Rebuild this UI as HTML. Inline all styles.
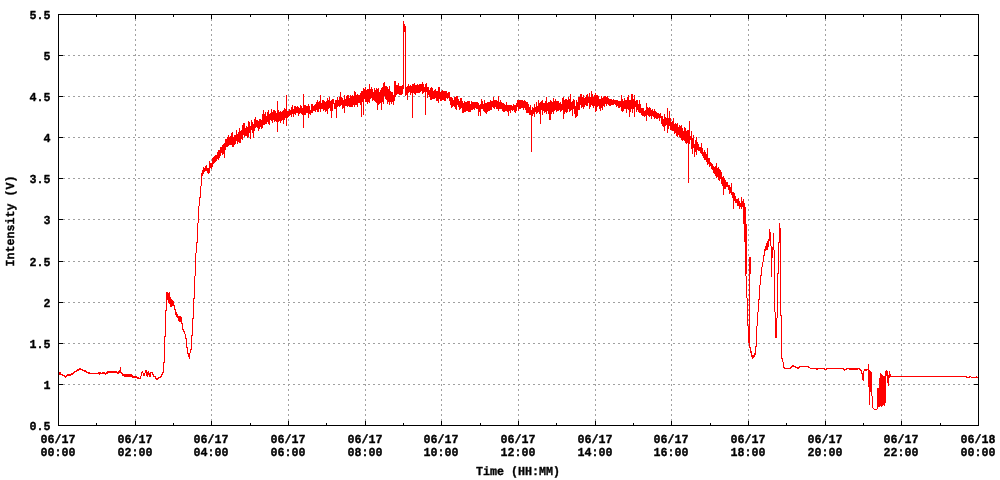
<!DOCTYPE html>
<html lang="en">
<head>
<meta charset="utf-8">
<title>Intensity (V) vs Time (HH:MM)</title>
<style>
html,body{margin:0;padding:0;background:#ffffff;}
body{width:1000px;height:480px;overflow:hidden;}
svg{display:block;}
</style>
</head>
<body>
<svg width="1000" height="480" viewBox="0 0 1000 480">
<rect x="0" y="0" width="1000" height="480" fill="#ffffff"/>
<g stroke="#a0a0a0" stroke-width="1" stroke-dasharray="2 3" shape-rendering="crispEdges" fill="none">
<path d="M58 384.5 H978"/>
<path d="M58 343.5 H978"/>
<path d="M58 302.5 H978"/>
<path d="M58 261.5 H978"/>
<path d="M58 219.5 H978"/>
<path d="M58 178.5 H978"/>
<path d="M58 137.5 H978"/>
<path d="M58 96.5 H978"/>
<path d="M58 55.5 H978"/>
<path d="M135.5 426 V14"/>
<path d="M211.5 426 V14"/>
<path d="M288.5 426 V14"/>
<path d="M365.5 426 V14"/>
<path d="M441.5 426 V14"/>
<path d="M518.5 426 V14"/>
<path d="M595.5 426 V14"/>
<path d="M671.5 426 V14"/>
<path d="M748.5 426 V14"/>
<path d="M825.5 426 V14"/>
<path d="M901.5 426 V14"/>
</g>
<path id="curve" fill="#ff0000" shape-rendering="crispEdges" d="M59 372v3h1v-3zM60 372v3h1v-3zM61 374v1h1v-1zM62 374v2h1v-2zM63 375v1h1v-1zM64 375v2h1v-2zM65 376v2h1v-2zM66 375v2h1v-2zM67 374v2h1v-2zM68 374v2h1v-2zM69 374v2h1v-2zM70 374v2h1v-2zM71 373v2h1v-2zM72 373v2h1v-2zM73 372v2h1v-2zM74 371v2h1v-2zM75 371v1h1v-1zM76 370v2h1v-2zM77 369v2h1v-2zM78 369v2h1v-2zM79 368v2h1v-2zM80 368v2h1v-2zM81 369v1h1v-1zM82 369v2h1v-2zM83 370v1h1v-1zM84 370v2h1v-2zM85 370v2h1v-2zM86 371v2h1v-2zM87 372v1h1v-1zM88 372v2h1v-2zM89 372v2h1v-2zM90 373v1h1v-1zM91 373v1h1v-1zM92 373v1h1v-1zM93 373v1h1v-1zM94 373v1h1v-1zM95 373v1h1v-1zM96 373v1h1v-1zM97 373v1h1v-1zM98 372v2h1v-2zM99 372v3h1v-3zM100 372v2h1v-2zM101 373v1h1v-1zM102 372v2h1v-2zM103 372v2h1v-2zM104 372v2h1v-2zM105 373v2h1v-2zM106 372v2h1v-2zM107 371v3h1v-3zM108 371v2h1v-2zM109 371v2h1v-2zM110 371v2h1v-2zM111 371v2h1v-2zM112 371v2h1v-2zM113 371v2h1v-2zM114 371v2h1v-2zM115 371v2h1v-2zM116 371v2h1v-2zM117 372v2h1v-2zM118 371v3h1v-3zM119 370v3h1v-3zM120 367v6h1v-6zM121 372v2h1v-2zM122 373v3h1v-3zM123 374v2h1v-2zM124 374v3h1v-3zM125 374v3h1v-3zM126 374v3h1v-3zM127 374v3h1v-3zM128 374v3h1v-3zM129 374v3h1v-3zM130 374v3h1v-3zM131 374v3h1v-3zM132 375v3h1v-3zM133 376v2h1v-2zM134 376v2h1v-2zM135 376v2h1v-2zM136 376v2h1v-2zM137 377v2h1v-2zM138 377v2h1v-2zM139 378v1h1v-1zM140 376v3h1v-3zM141 372v4h1v-4zM142 371v2h1v-2zM143 373v3h1v-3zM144 373v3h1v-3zM145 370v3h1v-3zM146 370v6h1v-6zM147 372v5h1v-5zM148 371v4h1v-4zM149 373v4h1v-4zM150 372v5h1v-5zM151 372v1h1v-1zM152 372v3h1v-3zM153 374v3h1v-3zM154 376v1h1v-1zM155 376v3h1v-3zM156 378v2h1v-2zM157 378v2h1v-2zM158 377v2h1v-2zM159 377v1h1v-1zM160 376v2h1v-2zM161 374v3h1v-3zM162 372v3h1v-3zM163 362v11h1v-11zM164 336v27h1v-27zM165 310v27h1v-27zM166 292v19h1v-19zM167 292v8h1v-8zM168 293v10h1v-10zM169 292v12h1v-12zM170 297v10h1v-10zM171 299v8h1v-8zM172 300v6h1v-6zM173 301v5h1v-5zM174 305v5h1v-5zM175 309v6h1v-6zM176 312v5h1v-5zM177 314v4h1v-4zM178 316v5h1v-5zM179 316v6h1v-6zM180 316v6h1v-6zM181 317v7h1v-7zM182 323v7h1v-7zM183 329v3h1v-3zM184 331v3h1v-3zM185 334v5h1v-5zM186 338v10h1v-10zM187 347v7h1v-7zM188 353v4h1v-4zM189 353v6h1v-6zM190 349v4h1v-4zM191 335v15h1v-15zM192 318v18h1v-18zM193 298v21h1v-21zM194 276v23h1v-23zM195 253v23h1v-23zM196 242v11h1v-11zM197 223v20h1v-20zM198 206v17h1v-17zM199 197v9h1v-9zM200 186v12h1v-12zM201 173v13h1v-13zM202 170v6h1v-6zM203 167v7h1v-7zM204 168v4h1v-4zM205 166v5h1v-5zM206 165v6h1v-6zM207 168v5h1v-5zM208 168v6h1v-6zM209 161v12h1v-12zM210 163v5h1v-5zM211 163v6h1v-6zM212 158v9h1v-9zM213 157v7h1v-7zM214 156v7h1v-7zM215 155v7h1v-7zM216 155v6h1v-6zM217 152v7h1v-7zM218 150v10h1v-10zM219 150v8h1v-8zM220 147v9h1v-9zM221 147v6h1v-6zM222 145v10h1v-10zM223 144v10h1v-10zM224 143v15h1v-15zM225 139v11h1v-11zM226 139v8h1v-8zM227 137v10h1v-10zM228 135v11h1v-11zM229 137v8h1v-8zM230 136v9h1v-9zM231 133v12h1v-12zM232 132v15h1v-15zM233 137v10h1v-10zM234 135v10h1v-10zM235 135v9h1v-9zM236 130v11h1v-11zM237 134v10h1v-10zM238 132v10h1v-10zM239 128v15h1v-15zM240 131v12h1v-12zM241 130v9h1v-9zM242 125v15h1v-15zM243 123v12h1v-12zM244 123v14h1v-14zM245 128v8h1v-8zM246 126v10h1v-10zM247 127v11h1v-11zM248 121v16h1v-16zM249 122v11h1v-11zM250 126v13h1v-13zM251 120v10h1v-10zM252 122v11h1v-11zM253 124v14h1v-14zM254 119v12h1v-12zM255 117v11h1v-11zM256 120v7h1v-7zM257 120v8h1v-8zM258 121v10h1v-10zM259 119v10h1v-10zM260 119v8h1v-8zM261 120v9h1v-9zM262 114v14h1v-14zM263 110v15h1v-15zM264 114v11h1v-11zM265 112v12h1v-12zM266 116v8h1v-8zM267 112v10h1v-10zM268 110v14h1v-14zM269 114v11h1v-11zM270 113v7h1v-7zM271 109v12h1v-12zM272 112v11h1v-11zM273 110v10h1v-10zM274 110v12h1v-12zM275 111v10h1v-10zM276 113v9h1v-9zM277 101v31h1v-31zM278 110v12h1v-12zM279 112v9h1v-9zM280 111v12h1v-12zM281 112v9h1v-9zM282 111v9h1v-9zM283 110v14h1v-14zM284 108v12h1v-12zM285 109v9h1v-9zM286 95v31h1v-31zM287 111v7h1v-7zM288 111v6h1v-6zM289 109v7h1v-7zM290 110v5h1v-5zM291 107v10h1v-10zM292 105v9h1v-9zM293 109v8h1v-8zM294 106v8h1v-8zM295 106v9h1v-9zM296 107v6h1v-6zM297 106v7h1v-7zM298 107v9h1v-9zM299 108v6h1v-6zM300 105v8h1v-8zM301 106v8h1v-8zM302 108v7h1v-7zM303 94v34h1v-34zM304 105v10h1v-10zM305 105v10h1v-10zM306 106v7h1v-7zM307 106v7h1v-7zM308 104v14h1v-14zM309 106v8h1v-8zM310 110v5h1v-5zM311 104v9h1v-9zM312 104v9h1v-9zM313 106v5h1v-5zM314 105v6h1v-6zM315 104v8h1v-8zM316 102v8h1v-8zM317 100v12h1v-12zM318 102v10h1v-10zM319 101v8h1v-8zM320 95v17h1v-17zM321 103v6h1v-6zM322 100v9h1v-9zM323 100v11h1v-11zM324 101v9h1v-9zM325 102v10h1v-10zM326 101v10h1v-10zM327 98v16h1v-16zM328 100v9h1v-9zM329 97v11h1v-11zM330 101v10h1v-10zM331 100v18h1v-18zM332 99v12h1v-12zM333 99v5h1v-5zM334 103v6h1v-6zM335 100v9h1v-9zM336 100v18h1v-18zM337 97v10h1v-10zM338 100v6h1v-6zM339 97v10h1v-10zM340 92v14h1v-14zM341 97v8h1v-8zM342 98v11h1v-11zM343 100v8h1v-8zM344 95v18h1v-18zM345 99v7h1v-7zM346 96v10h1v-10zM347 95v12h1v-12zM348 95v11h1v-11zM349 98v9h1v-9zM350 95v12h1v-12zM351 96v11h1v-11zM352 95v12h1v-12zM353 96v9h1v-9zM354 91v16h1v-16zM355 92v13h1v-13zM356 95v10h1v-10zM357 94v13h1v-13zM358 95v8h1v-8zM359 95v8h1v-8zM360 93v12h1v-12zM361 91v26h1v-26zM362 91v11h1v-11zM363 88v27h1v-27zM364 89v10h1v-10zM365 87v15h1v-15zM366 90v12h1v-12zM367 89v15h1v-15zM368 89v13h1v-13zM369 84v19h1v-19zM370 89v10h1v-10zM371 87v11h1v-11zM372 89v12h1v-12zM373 92v8h1v-8zM374 88v13h1v-13zM375 90v12h1v-12zM376 88v15h1v-15zM377 89v21h1v-21zM378 88v17h1v-17zM379 92v12h1v-12zM380 90v13h1v-13zM381 88v22h1v-22zM382 87v15h1v-15zM383 83v21h1v-21zM384 82v14h1v-14zM385 86v13h1v-13zM386 86v14h1v-14zM387 87v17h1v-17zM388 89v13h1v-13zM389 86v19h1v-19zM390 91v11h1v-11zM391 92v12h1v-12zM392 92v10h1v-10zM393 95v10h1v-10zM394 81v20h1v-20zM395 81v16h1v-16zM396 85v10h1v-10zM397 85v9h1v-9zM398 83v11h1v-11zM399 86v9h1v-9zM400 86v9h1v-9zM401 86v9h1v-9zM402 85v9h1v-9zM403 21v68h1v-68zM404 24v8h1v-8zM405 26v70h1v-70zM406 87v8h1v-8zM407 86v14h1v-14zM408 84v9h1v-9zM409 86v6h1v-6zM410 85v10h1v-10zM411 86v7h1v-7zM412 84v34h1v-34zM413 84v9h1v-9zM414 83v11h1v-11zM415 85v10h1v-10zM416 85v8h1v-8zM417 84v9h1v-9zM418 85v8h1v-8zM419 84v9h1v-9zM420 84v8h1v-8zM421 84v7h1v-7zM422 82v12h1v-12zM423 84v9h1v-9zM424 87v5h1v-5zM425 84v31h1v-31zM426 83v9h1v-9zM427 87v11h1v-11zM428 87v8h1v-8zM429 90v7h1v-7zM430 88v12h1v-12zM431 87v13h1v-13zM432 88v11h1v-11zM433 91v8h1v-8zM434 90v9h1v-9zM435 89v9h1v-9zM436 91v10h1v-10zM437 91v10h1v-10zM438 87v16h1v-16zM439 87v12h1v-12zM440 92v9h1v-9zM441 91v10h1v-10zM442 90v10h1v-10zM443 91v9h1v-9zM444 91v10h1v-10zM445 91v10h1v-10zM446 91v7h1v-7zM447 93v6h1v-6zM448 92v6h1v-6zM449 92v9h1v-9zM450 97v8h1v-8zM451 97v11h1v-11zM452 98v9h1v-9zM453 100v6h1v-6zM454 97v10h1v-10zM455 97v12h1v-12zM456 96v14h1v-14zM457 96v9h1v-9zM458 99v8h1v-8zM459 101v9h1v-9zM460 98v11h1v-11zM461 98v10h1v-10zM462 101v12h1v-12zM463 103v10h1v-10zM464 101v11h1v-11zM465 102v10h1v-10zM466 102v9h1v-9zM467 101v10h1v-10zM468 101v11h1v-11zM469 101v11h1v-11zM470 104v8h1v-8zM471 101v9h1v-9zM472 102v8h1v-8zM473 102v7h1v-7zM474 102v8h1v-8zM475 102v6h1v-6zM476 102v7h1v-7zM477 102v7h1v-7zM478 103v13h1v-13zM479 105v7h1v-7zM480 104v12h1v-12zM481 99v10h1v-10zM482 101v8h1v-8zM483 104v7h1v-7zM484 100v12h1v-12zM485 103v10h1v-10zM486 103v11h1v-11zM487 102v10h1v-10zM488 102v9h1v-9zM489 102v9h1v-9zM490 100v10h1v-10zM491 101v9h1v-9zM492 101v6h1v-6zM493 97v11h1v-11zM494 100v9h1v-9zM495 100v7h1v-7zM496 100v9h1v-9zM497 101v8h1v-8zM498 96v15h1v-15zM499 102v7h1v-7zM500 100v9h1v-9zM501 102v7h1v-7zM502 103v8h1v-8zM503 103v9h1v-9zM504 104v8h1v-8zM505 105v6h1v-6zM506 102v9h1v-9zM507 105v7h1v-7zM508 105v11h1v-11zM509 105v6h1v-6zM510 105v8h1v-8zM511 105v5h1v-5zM512 106v5h1v-5zM513 104v6h1v-6zM514 105v7h1v-7zM515 105v8h1v-8zM516 103v8h1v-8zM517 100v7h1v-7zM518 100v11h1v-11zM519 100v9h1v-9zM520 100v9h1v-9zM521 100v8h1v-8zM522 100v8h1v-8zM523 101v9h1v-9zM524 100v8h1v-8zM525 101v9h1v-9zM526 102v11h1v-11zM527 102v11h1v-11zM528 104v9h1v-9zM529 107v8h1v-8zM530 105v10h1v-10zM531 110v42h1v-42zM532 107v9h1v-9zM533 108v6h1v-6zM534 104v13h1v-13zM535 107v5h1v-5zM536 102v12h1v-12zM537 106v7h1v-7zM538 100v12h1v-12zM539 103v11h1v-11zM540 102v22h1v-22zM541 101v9h1v-9zM542 100v15h1v-15zM543 103v8h1v-8zM544 103v10h1v-10zM545 101v11h1v-11zM546 97v17h1v-17zM547 103v8h1v-8zM548 102v12h1v-12zM549 102v18h1v-18zM550 100v20h1v-20zM551 101v13h1v-13zM552 102v10h1v-10zM553 98v16h1v-16zM554 101v10h1v-10zM555 99v11h1v-11zM556 101v11h1v-11zM557 101v10h1v-10zM558 101v10h1v-10zM559 103v7h1v-7zM560 102v10h1v-10zM561 104v7h1v-7zM562 98v12h1v-12zM563 97v22h1v-22zM564 100v14h1v-14zM565 99v13h1v-13zM566 99v14h1v-14zM567 100v12h1v-12zM568 97v12h1v-12zM569 99v13h1v-13zM570 94v17h1v-17zM571 102v8h1v-8zM572 101v15h1v-15zM573 99v10h1v-10zM574 100v14h1v-14zM575 106v12h1v-12zM576 100v17h1v-17zM577 102v14h1v-14zM578 97v13h1v-13zM579 97v13h1v-13zM580 94v11h1v-11zM581 94v14h1v-14zM582 97v10h1v-10zM583 95v14h1v-14zM584 98v9h1v-9zM585 97v8h1v-8zM586 95v11h1v-11zM587 94v12h1v-12zM588 97v6h1v-6zM589 93v16h1v-16zM590 97v10h1v-10zM591 91v14h1v-14zM592 94v12h1v-12zM593 97v11h1v-11zM594 95v11h1v-11zM595 93v19h1v-19zM596 95v16h1v-16zM597 95v12h1v-12zM598 96v10h1v-10zM599 99v10h1v-10zM600 99v12h1v-12zM601 96v12h1v-12zM602 98v12h1v-12zM603 97v9h1v-9zM604 96v11h1v-11zM605 96v8h1v-8zM606 97v9h1v-9zM607 96v8h1v-8zM608 98v7h1v-7zM609 99v7h1v-7zM610 99v7h1v-7zM611 99v6h1v-6zM612 100v5h1v-5zM613 99v6h1v-6zM614 100v4h1v-4zM615 100v5h1v-5zM616 100v7h1v-7zM617 100v6h1v-6zM618 101v7h1v-7zM619 101v7h1v-7zM620 101v6h1v-6zM621 95v16h1v-16zM622 99v13h1v-13zM623 101v10h1v-10zM624 98v11h1v-11zM625 100v9h1v-9zM626 100v13h1v-13zM627 97v12h1v-12zM628 95v15h1v-15zM629 100v17h1v-17zM630 100v12h1v-12zM631 94v15h1v-15zM632 94v19h1v-19zM633 99v10h1v-10zM634 95v22h1v-22zM635 101v6h1v-6zM636 100v12h1v-12zM637 100v10h1v-10zM638 104v8h1v-8zM639 100v13h1v-13zM640 104v9h1v-9zM641 108v7h1v-7zM642 108v8h1v-8zM643 108v8h1v-8zM644 111v6h1v-6zM645 110v6h1v-6zM646 103v18h1v-18zM647 107v8h1v-8zM648 108v8h1v-8zM649 107v10h1v-10zM650 108v8h1v-8zM651 110v9h1v-9zM652 109v7h1v-7zM653 111v6h1v-6zM654 109v10h1v-10zM655 111v7h1v-7zM656 112v7h1v-7zM657 113v6h1v-6zM658 113v5h1v-5zM659 114v7h1v-7zM660 113v5h1v-5zM661 116v8h1v-8zM662 116v10h1v-10zM663 119v8h1v-8zM664 114v17h1v-17zM665 117v9h1v-9zM666 118v7h1v-7zM667 108v25h1v-25zM668 118v11h1v-11zM669 111v15h1v-15zM670 118v12h1v-12zM671 122v8h1v-8zM672 121v10h1v-10zM673 118v13h1v-13zM674 124v10h1v-10zM675 123v10h1v-10zM676 124v12h1v-12zM677 123v14h1v-14zM678 127v8h1v-8zM679 125v12h1v-12zM680 126v12h1v-12zM681 125v15h1v-15zM682 128v13h1v-13zM683 131v9h1v-9zM684 127v14h1v-14zM685 128v15h1v-15zM686 131v13h1v-13zM687 130v13h1v-13zM688 130v53h1v-53zM689 121v23h1v-23zM690 136v4h1v-4zM691 131v18h1v-18zM692 138v16h1v-16zM693 135v13h1v-13zM694 144v13h1v-13zM695 140v12h1v-12zM696 137v18h1v-18zM697 142v8h1v-8zM698 144v7h1v-7zM699 147v4h1v-4zM700 147v6h1v-6zM701 143v11h1v-11zM702 148v8h1v-8zM703 152v6h1v-6zM704 150v10h1v-10zM705 152v8h1v-8zM706 154v8h1v-8zM707 148v17h1v-17zM708 158v6h1v-6zM709 158v9h1v-9zM710 162v4h1v-4zM711 163v6h1v-6zM712 164v6h1v-6zM713 166v7h1v-7zM714 167v7h1v-7zM715 166v10h1v-10zM716 163v15h1v-15zM717 168v9h1v-9zM718 167v13h1v-13zM719 169v12h1v-12zM720 170v9h1v-9zM721 172v12h1v-12zM722 177v9h1v-9zM723 176v19h1v-19zM724 178v11h1v-11zM725 180v9h1v-9zM726 182v5h1v-5zM727 182v5h1v-5zM728 185v5h1v-5zM729 185v9h1v-9zM730 187v6h1v-6zM731 183v12h1v-12zM732 192v6h1v-6zM733 192v17h1v-17zM734 193v8h1v-8zM735 196v7h1v-7zM736 199v4h1v-4zM737 199v7h1v-7zM738 198v8h1v-8zM739 201v8h1v-8zM740 203v4h1v-4zM741 197v12h1v-12zM742 201v6h1v-6zM743 199v25h1v-25zM744 203v39h1v-39zM745 207v69h1v-69zM746 224v50h1v-50zM746 276v22h1v-22zM747 298v28h1v-28zM748 326v17h1v-17zM749 257v91h1v-91zM750 257v17h1v-17zM750 347v6h1v-6zM751 351v6h1v-6zM752 355v4h1v-4zM753 355v3h1v-3zM754 353v4h1v-4zM755 346v9h1v-9zM756 326v21h1v-21zM757 312v14h1v-14zM758 299v13h1v-13zM759 285v15h1v-15zM760 275v10h1v-10zM761 267v9h1v-9zM762 262v5h1v-5zM763 255v7h1v-7zM764 249v7h1v-7zM765 246v5h1v-5zM766 243v7h1v-7zM767 241v9h1v-9zM768 239v8h1v-8zM769 229v12h1v-12zM770 232v14h1v-14zM771 246v31h1v-31zM772 247v11h1v-11zM773 233v17h1v-17zM774 250v62h1v-62zM775 312v26h1v-26zM776 318v20h1v-20zM777 273v45h1v-45zM778 242v32h1v-32zM779 223v20h1v-20zM780 228v88h1v-88zM781 315v44h1v-44zM782 358v4h1v-4zM783 362v6h1v-6zM784 367v2h1v-2zM785 368v1h1v-1zM786 368v1h1v-1zM787 368v1h1v-1zM788 368v1h1v-1zM789 368v1h1v-1zM790 367v2h1v-2zM791 366v2h1v-2zM792 365v2h1v-2zM793 365v2h1v-2zM794 366v1h1v-1zM795 366v2h1v-2zM796 367v1h1v-1zM797 367v2h1v-2zM798 367v2h1v-2zM799 366v2h1v-2zM800 366v1h1v-1zM801 366v1h1v-1zM802 366v1h1v-1zM803 366v1h1v-1zM804 366v1h1v-1zM805 366v1h1v-1zM806 366v1h1v-1zM807 366v1h1v-1zM808 366v2h1v-2zM809 367v1h1v-1zM810 368v1h1v-1zM811 368v1h1v-1zM812 368v1h1v-1zM813 368v1h1v-1zM814 368v1h1v-1zM815 368v1h1v-1zM816 368v2h1v-2zM817 368v2h1v-2zM818 368v1h1v-1zM819 368v1h1v-1zM820 368v1h1v-1zM821 368v1h1v-1zM822 368v1h1v-1zM823 368v1h1v-1zM824 368v2h1v-2zM825 369v1h1v-1zM826 368v2h1v-2zM827 368v1h1v-1zM828 368v1h1v-1zM829 368v1h1v-1zM830 368v1h1v-1zM831 368v1h1v-1zM832 368v1h1v-1zM833 368v1h1v-1zM834 368v1h1v-1zM835 368v1h1v-1zM836 368v1h1v-1zM837 368v1h1v-1zM838 368v1h1v-1zM839 368v1h1v-1zM840 368v1h1v-1zM841 368v1h1v-1zM842 368v1h1v-1zM843 368v2h1v-2zM844 369v2h1v-2zM845 369v1h1v-1zM846 368v2h1v-2zM847 368v1h1v-1zM848 368v1h1v-1zM849 368v2h1v-2zM850 368v2h1v-2zM851 368v2h1v-2zM852 368v2h1v-2zM853 368v2h1v-2zM854 368v2h1v-2zM855 368v2h1v-2zM856 368v2h1v-2zM857 368v2h1v-2zM858 368v1h1v-1zM859 368v2h1v-2zM860 369v2h1v-2zM861 370v4h1v-4zM862 373v7h1v-7zM863 371v10h1v-10zM864 369v2h1v-2zM865 369v2h1v-2zM866 369v2h1v-2zM867 369v1h1v-1zM868 364v23h1v-23zM869 370v35h1v-35zM870 371v21h1v-21zM871 372v24h1v-24zM872 396v12h1v-12zM873 408v1h1v-1zM874 409v1h1v-1zM875 409v1h1v-1zM876 409v1h1v-1zM877 388v21h1v-21zM878 388v19h1v-19zM879 378v29h1v-29zM880 373v33h1v-33zM881 374v33h1v-33zM882 375v31h1v-31zM883 376v29h1v-29zM884 376v30h1v-30zM885 371v32h1v-32zM886 370v6h1v-6zM887 371v12h1v-12zM888 375v11h1v-11zM889 371v7h1v-7zM890 374v3h1v-3zM891 376v1h1v-1zM892 376v1h1v-1zM893 376v1h1v-1zM894 376v1h1v-1zM895 376v1h1v-1zM896 376v1h1v-1zM897 376v1h1v-1zM898 376v1h1v-1zM899 376v1h1v-1zM900 376v1h1v-1zM901 376v1h1v-1zM902 376v1h1v-1zM903 376v1h1v-1zM904 376v1h1v-1zM905 376v1h1v-1zM906 376v1h1v-1zM907 376v1h1v-1zM908 376v1h1v-1zM909 376v1h1v-1zM910 376v1h1v-1zM911 376v1h1v-1zM912 376v1h1v-1zM913 376v1h1v-1zM914 376v1h1v-1zM915 376v1h1v-1zM916 376v1h1v-1zM917 376v1h1v-1zM918 376v1h1v-1zM919 376v1h1v-1zM920 376v1h1v-1zM921 376v1h1v-1zM922 376v1h1v-1zM923 376v1h1v-1zM924 376v1h1v-1zM925 376v1h1v-1zM926 376v1h1v-1zM927 376v1h1v-1zM928 376v1h1v-1zM929 376v1h1v-1zM930 376v1h1v-1zM931 376v1h1v-1zM932 376v1h1v-1zM933 376v1h1v-1zM934 376v1h1v-1zM935 376v1h1v-1zM936 376v1h1v-1zM937 376v1h1v-1zM938 376v1h1v-1zM939 376v1h1v-1zM940 376v1h1v-1zM941 376v1h1v-1zM942 376v1h1v-1zM943 376v1h1v-1zM944 376v1h1v-1zM945 376v1h1v-1zM946 376v1h1v-1zM947 376v1h1v-1zM948 376v1h1v-1zM949 376v1h1v-1zM950 376v1h1v-1zM951 376v1h1v-1zM952 376v1h1v-1zM953 376v1h1v-1zM954 376v1h1v-1zM955 376v1h1v-1zM956 376v1h1v-1zM957 376v1h1v-1zM958 376v1h1v-1zM959 376v1h1v-1zM960 376v1h1v-1zM961 376v1h1v-1zM962 376v1h1v-1zM963 376v1h1v-1zM964 376v1h1v-1zM965 376v1h1v-1zM966 376v2h1v-2zM967 377v1h1v-1zM968 377v1h1v-1zM969 376v2h1v-2zM970 376v1h1v-1zM971 377v1h1v-1zM972 377v1h1v-1zM973 377v1h1v-1zM974 377v1h1v-1zM975 377v1h1v-1zM976 376v2h1v-2zM977 377v1h1v-1z"/>
<g stroke="#000000" stroke-width="1" shape-rendering="crispEdges" fill="none">
<path d="M58 425.5 h5 M979 425.5 h-5"/>
<path d="M58 384.5 h5 M979 384.5 h-5"/>
<path d="M58 343.5 h5 M979 343.5 h-5"/>
<path d="M58 302.5 h5 M979 302.5 h-5"/>
<path d="M58 261.5 h5 M979 261.5 h-5"/>
<path d="M58 219.5 h5 M979 219.5 h-5"/>
<path d="M58 178.5 h5 M979 178.5 h-5"/>
<path d="M58 137.5 h5 M979 137.5 h-5"/>
<path d="M58 96.5 h5 M979 96.5 h-5"/>
<path d="M58 55.5 h5 M979 55.5 h-5"/>
<path d="M58 14.5 h5 M979 14.5 h-5"/>
<path d="M58.5 426 v-5 M58.5 14 v5"/>
<path d="M96.5 426 v-3 M96.5 14 v3"/>
<path d="M135.5 426 v-5 M135.5 14 v5"/>
<path d="M173.5 426 v-3 M173.5 14 v3"/>
<path d="M211.5 426 v-5 M211.5 14 v5"/>
<path d="M250.5 426 v-3 M250.5 14 v3"/>
<path d="M288.5 426 v-5 M288.5 14 v5"/>
<path d="M326.5 426 v-3 M326.5 14 v3"/>
<path d="M365.5 426 v-5 M365.5 14 v5"/>
<path d="M403.5 426 v-3 M403.5 14 v3"/>
<path d="M441.5 426 v-5 M441.5 14 v5"/>
<path d="M480.5 426 v-3 M480.5 14 v3"/>
<path d="M518.5 426 v-5 M518.5 14 v5"/>
<path d="M556.5 426 v-3 M556.5 14 v3"/>
<path d="M595.5 426 v-5 M595.5 14 v5"/>
<path d="M633.5 426 v-3 M633.5 14 v3"/>
<path d="M671.5 426 v-5 M671.5 14 v5"/>
<path d="M710.5 426 v-3 M710.5 14 v3"/>
<path d="M748.5 426 v-5 M748.5 14 v5"/>
<path d="M786.5 426 v-3 M786.5 14 v3"/>
<path d="M825.5 426 v-5 M825.5 14 v5"/>
<path d="M863.5 426 v-3 M863.5 14 v3"/>
<path d="M901.5 426 v-5 M901.5 14 v5"/>
<path d="M940.5 426 v-3 M940.5 14 v3"/>
<path d="M978.5 426 v-5 M978.5 14 v5"/>
<rect x="58.5" y="14.5" width="920" height="411"/>
</g>
<g id="labels" font-family="'Liberation Mono', 'DejaVu Sans Mono', monospace" font-weight="bold" font-size="12.2px" fill="#000000" stroke="#000000" stroke-width="0.35" stroke-linejoin="round" text-rendering="geometricPrecision" style="opacity:0.999">
<text x="50.5" y="430" text-anchor="end" textLength="21" lengthAdjust="spacingAndGlyphs">0.5</text>
<text x="50.5" y="389" text-anchor="end" textLength="7" lengthAdjust="spacingAndGlyphs">1</text>
<text x="50.5" y="348" text-anchor="end" textLength="21" lengthAdjust="spacingAndGlyphs">1.5</text>
<text x="50.5" y="307" text-anchor="end" textLength="7" lengthAdjust="spacingAndGlyphs">2</text>
<text x="50.5" y="266" text-anchor="end" textLength="21" lengthAdjust="spacingAndGlyphs">2.5</text>
<text x="50.5" y="224" text-anchor="end" textLength="7" lengthAdjust="spacingAndGlyphs">3</text>
<text x="50.5" y="183" text-anchor="end" textLength="21" lengthAdjust="spacingAndGlyphs">3.5</text>
<text x="50.5" y="142" text-anchor="end" textLength="7" lengthAdjust="spacingAndGlyphs">4</text>
<text x="50.5" y="101" text-anchor="end" textLength="21" lengthAdjust="spacingAndGlyphs">4.5</text>
<text x="50.5" y="60" text-anchor="end" textLength="7" lengthAdjust="spacingAndGlyphs">5</text>
<text x="50.5" y="19" text-anchor="end" textLength="21" lengthAdjust="spacingAndGlyphs">5.5</text>
<text x="58" y="443" text-anchor="middle" textLength="35" lengthAdjust="spacingAndGlyphs">06/17</text>
<text x="58" y="456" text-anchor="middle" textLength="35" lengthAdjust="spacingAndGlyphs">00:00</text>
<text x="135" y="443" text-anchor="middle" textLength="35" lengthAdjust="spacingAndGlyphs">06/17</text>
<text x="135" y="456" text-anchor="middle" textLength="35" lengthAdjust="spacingAndGlyphs">02:00</text>
<text x="211" y="443" text-anchor="middle" textLength="35" lengthAdjust="spacingAndGlyphs">06/17</text>
<text x="211" y="456" text-anchor="middle" textLength="35" lengthAdjust="spacingAndGlyphs">04:00</text>
<text x="288" y="443" text-anchor="middle" textLength="35" lengthAdjust="spacingAndGlyphs">06/17</text>
<text x="288" y="456" text-anchor="middle" textLength="35" lengthAdjust="spacingAndGlyphs">06:00</text>
<text x="365" y="443" text-anchor="middle" textLength="35" lengthAdjust="spacingAndGlyphs">06/17</text>
<text x="365" y="456" text-anchor="middle" textLength="35" lengthAdjust="spacingAndGlyphs">08:00</text>
<text x="441" y="443" text-anchor="middle" textLength="35" lengthAdjust="spacingAndGlyphs">06/17</text>
<text x="441" y="456" text-anchor="middle" textLength="35" lengthAdjust="spacingAndGlyphs">10:00</text>
<text x="518" y="443" text-anchor="middle" textLength="35" lengthAdjust="spacingAndGlyphs">06/17</text>
<text x="518" y="456" text-anchor="middle" textLength="35" lengthAdjust="spacingAndGlyphs">12:00</text>
<text x="595" y="443" text-anchor="middle" textLength="35" lengthAdjust="spacingAndGlyphs">06/17</text>
<text x="595" y="456" text-anchor="middle" textLength="35" lengthAdjust="spacingAndGlyphs">14:00</text>
<text x="671" y="443" text-anchor="middle" textLength="35" lengthAdjust="spacingAndGlyphs">06/17</text>
<text x="671" y="456" text-anchor="middle" textLength="35" lengthAdjust="spacingAndGlyphs">16:00</text>
<text x="748" y="443" text-anchor="middle" textLength="35" lengthAdjust="spacingAndGlyphs">06/17</text>
<text x="748" y="456" text-anchor="middle" textLength="35" lengthAdjust="spacingAndGlyphs">18:00</text>
<text x="825" y="443" text-anchor="middle" textLength="35" lengthAdjust="spacingAndGlyphs">06/17</text>
<text x="825" y="456" text-anchor="middle" textLength="35" lengthAdjust="spacingAndGlyphs">20:00</text>
<text x="901" y="443" text-anchor="middle" textLength="35" lengthAdjust="spacingAndGlyphs">06/17</text>
<text x="901" y="456" text-anchor="middle" textLength="35" lengthAdjust="spacingAndGlyphs">22:00</text>
<text x="978" y="443" text-anchor="middle" textLength="35" lengthAdjust="spacingAndGlyphs">06/18</text>
<text x="978" y="456" text-anchor="middle" textLength="35" lengthAdjust="spacingAndGlyphs">00:00</text>
<text x="518" y="475" text-anchor="middle" textLength="84" lengthAdjust="spacingAndGlyphs">Time (HH:MM)</text>
<text transform="translate(14 221) rotate(-90)" x="0" y="0" text-anchor="middle" textLength="91" lengthAdjust="spacingAndGlyphs">Intensity (V)</text>
</g>
</svg>
</body>
</html>
